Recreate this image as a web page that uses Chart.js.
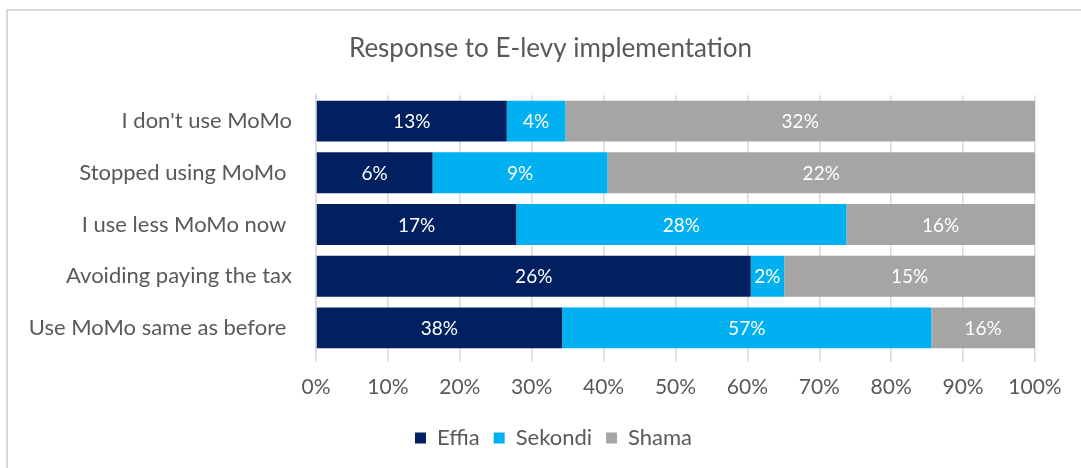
<!DOCTYPE html>
<html>
<head>
<meta charset="utf-8">
<script src="https://cdn.jsdelivr.net/npm/chart.js@4"></script>
<style>
  html, body { margin: 0; padding: 0; background: #fff; }
  #frame {
    position: absolute; left: 6px; top: 9px; width: 1075px; height: 459px;
    border-left: 2px solid #d9d9d9; border-top: 2px solid #d9d9d9;
  }
  #wrap { position: absolute; left: 0; top: 0; width: 1081px; height: 468px; }
</style>
</head>
<body>
<div id="frame"></div>
<div id="wrap"><canvas id="chart"></canvas></div>
<script>
// --- datos ---
const categorias = [
  "I don't use MoMo",
  'Stopped using MoMo ',
  'I use less MoMo now ',
  'Avoiding paying the tax',
  'Use MoMo same as before '
];
const effia   = [13, 6, 17, 26, 38];
const sekondi = [4, 9, 28, 2, 57];
const shama   = [32, 22, 16, 15, 16];
const series  = ['Effia', 'Sekondi', 'Shama'];
const colores = ['#002060', '#00B0F0', '#A5A5A5'];
const ticksX  = ['0%', '10%', '20%', '30%', '40%', '50%', '60%', '70%', '80%', '90%', '100%'];

const TEXTO = '#595959';
const FUENTE = 'Lato, "Open Sans", sans-serif';

// 100% apilado: cada fila como porcentaje de su total
const raw = [effia, sekondi, shama];
const totales = categorias.map((_, i) => effia[i] + sekondi[i] + shama[i]);
const pct = raw.map(arr => arr.map((v, i) => v / totales[i] * 100));

// etiquetas dentro de las barras (valor original + %)
const etiquetasBarras = {
  id: 'etiquetasBarras',
  afterDatasetsDraw(chart) {
    const ctx = chart.ctx;
    ctx.save();
    ctx.font = '19px ' + FUENTE;
    ctx.fillStyle = '#ffffff';
    ctx.textAlign = 'center';
    ctx.textBaseline = 'middle';
    chart.data.datasets.forEach((ds, di) => {
      chart.getDatasetMeta(di).data.forEach((bar, i) => {
        const cx = (bar.x + bar.base) / 2;
        ctx.fillText(raw[di][i] + '%', cx, bar.y + 1);
      });
    });
    ctx.restore();
  }
};

// título y leyenda un poco corridos a la derecha (como en el original)
const correrCajas = {
  id: 'correrCajas',
  afterLayout(chart) {
    if (chart.titleBlock) { chart.titleBlock.left += 27; chart.titleBlock.right += 27; }
    if (chart.legend)     { chart.legend.left += 30;     chart.legend.right += 30; }
  }
};

new Chart(document.getElementById('chart'), {
  type: 'bar',
  data: {
    labels: categorias,
    datasets: series.map((s, k) => ({
      label: s,
      data: pct[k],
      backgroundColor: colores[k],
      borderWidth: 0,
      barPercentage: 0.79,
      categoryPercentage: 1
    }))
  },
  options: {
    indexAxis: 'y',
    responsive: true,
    maintainAspectRatio: false,
    animation: false,
    layout: { padding: { left: 12, right: 46, top: 10, bottom: 9 } },
    plugins: {
      title: {
        display: true,
        text: 'Response to E-levy implementation',
        color: TEXTO,
        font: { family: FUENTE, size: 26, weight: 'normal' },
        padding: { top: 23, bottom: 31 }
      },
      legend: {
        position: 'bottom',
        labels: {
          color: TEXTO,
          font: { family: FUENTE, size: 22 },
          boxWidth: 11, boxHeight: 11,
          padding: 14
        }
      },
      tooltip: { enabled: false }
    },
    scales: {
      x: {
        stacked: true,
        min: 0, max: 100,
        grid: { color: '#d9d9d9', lineWidth: 1.5, tickLength: 8, drawTicks: true },
        border: { display: false },
        ticks: {
          stepSize: 10,
          color: TEXTO,
          font: { family: FUENTE, size: 21 },
          padding: 13,
          callback: (v, i) => ticksX[i]
        }
      },
      y: {
        stacked: true,
        grid: { display: false },
        border: { display: true, color: '#d9d9d9', width: 1.5 },
        ticks: {
          color: TEXTO,
          font: { family: FUENTE, size: 22 },
          padding: 16
        },
        afterFit: s => { s.width = 316 - 12; }
      }
    }
  },
  plugins: [etiquetasBarras, correrCajas]
});
</script>
</body>
</html>
